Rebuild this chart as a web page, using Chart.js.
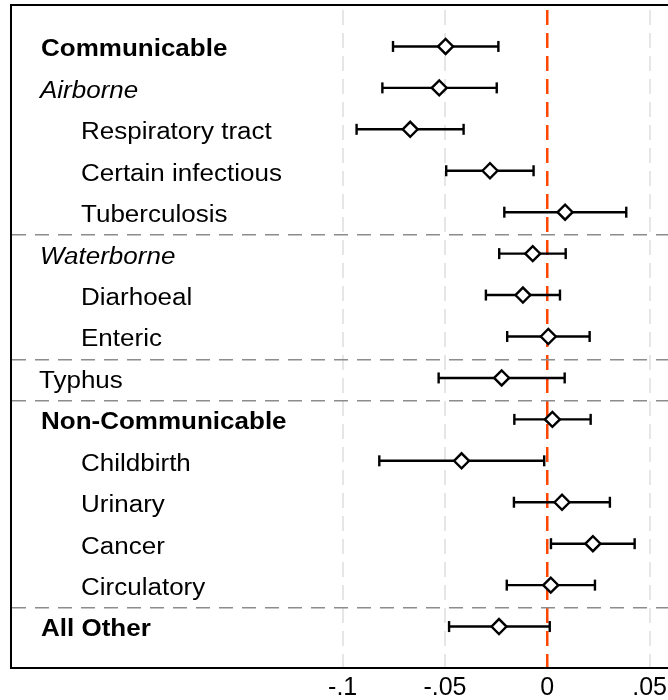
<!DOCTYPE html>
<html>
<head>
<meta charset="utf-8">
<script src="https://cdn.jsdelivr.net/npm/chart.js@4/dist/chart.umd.min.js"></script>
<style>
html,body{margin:0;padding:0;background:#fff;overflow:hidden;}
#wrap{width:668px;height:700px;position:relative;overflow:hidden;}
#c{position:absolute;left:0;top:0;}
</style>
</head>
<body>
<div id="wrap"><canvas id="c" width="700" height="700"></canvas></div>
<script>
// ---- data ----
const categories = ['Communicable','Airborne','Respiratory tract','Certain infectious','Tuberculosis',
  'Waterborne','Diarhoeal','Enteric','Typhus','Non-Communicable','Childbirth','Urinary','Cancer','Circulatory','All Other'];
const estimates = [-0.0497,-0.0528,-0.0670,-0.0280,0.0087,-0.0071,-0.0119,0.0005,-0.0223,0.0025,-0.0419,0.0072,0.0223,0.0017,-0.0236];
const lower     = [-0.0754,-0.0806,-0.0932,-0.0494,-0.0210,-0.0235,-0.0300,-0.0196,-0.0531,-0.0161,-0.0821,-0.0163,0.0018,-0.0198,-0.0480];
const upper     = [-0.0239,-0.0247,-0.0409,-0.0067,0.0386,0.0090,0.0062,0.0207,0.0085,0.0212,-0.0015,0.0306,0.0427,0.0233,0.0012];
const xTicks = [-0.1,-0.05,0,0.05];
const xTickLabels = ['-.1','-.05','0','.05'];
const separators = [4.55,7.55,8.55,13.55];

// ---- label styling (by row kind) ----
const rowKind = ['group','sub','item','item','item','sub','item','item','plain','group','item','item','item','item','group'];
const kindStyle = {
  group:{font:'bold 26px "Liberation Sans", Arial, sans-serif', x:41},
  sub:{font:'italic 26px "Liberation Sans", Arial, sans-serif', x:40},
  item:{font:'26px "Liberation Sans", Arial, sans-serif', x:81},
  plain:{font:'26px "Liberation Sans", Arial, sans-serif', x:39}
};

const pointData = categories.map((c,i)=>({x:estimates[i], y:i}));
const barSets = categories.map((c,i)=>({
  type:'line',
  data:[{x:lower[i],y:i},{x:upper[i],y:i}],
  borderColor:'#000', borderWidth:2.4,
  pointStyle:'line', rotation:90, pointRadius:5.5,
  pointBorderColor:'#000', pointBorderWidth:2.4, fill:false
}));

const labelPlugin = {
  id:'rowLabels',
  afterDatasetsDraw(chart){
    const ctx = chart.ctx, ys = chart.scales.y, area = chart.chartArea;
    ctx.save();
    ctx.fillStyle = '#000';
    ctx.textBaseline = 'alphabetic';
    ctx.textAlign = 'left';
    categories.forEach((c,i)=>{
      const st = kindStyle[rowKind[i]];
      const py = ys.getPixelForValue(i);
      ctx.save();
      ctx.translate(area.left + st.x - 11, py);
      ctx.scale(1,0.9);
      ctx.font = st.font;
      ctx.fillText(c, 0, 11);
      ctx.restore();
    });
    // top frame line
    ctx.strokeStyle = '#000';
    ctx.lineWidth = 2;
    ctx.beginPath();
    ctx.moveTo(area.left - 1, area.top);
    ctx.lineTo(area.right, area.top);
    ctx.stroke();
    ctx.restore();
  }
};

new Chart(document.getElementById('c'), {
  type:'scatter',
  data:{datasets:[
    {type:'scatter', data:pointData, pointStyle:'rectRot', pointRadius:7.5,
     backgroundColor:'#fff', borderColor:'#000', borderWidth:2.4}
  ].concat(barSets)},
  options:{
    responsive:false, animation:false, events:[],
    layout:{autoPadding:false, padding:{left:11, top:5, right:32, bottom:0}},
    plugins:{legend:{display:false}, tooltip:{enabled:false}},
    scales:{
      x:{
        type:'linear', position:'bottom', min:-0.2621, max:0.059,
        afterBuildTicks(s){ s.ticks = xTicks.map(v=>({value:v})); },
        afterFit(s){ s.height = 32; },
        ticks:{
          callback:(v)=>{ const k = xTicks.indexOf(v); return k>=0 ? xTickLabels[k] : ''; },
          font:{family:'"Liberation Sans", Arial, sans-serif', size:25},
          color:'#000', padding:5, maxRotation:0, autoSkip:false
        },
        grid:{
          drawTicks:false,
          color:(ctx)=> (ctx.tick && ctx.tick.value===0) ? '#ff4500' : '#e6e6e6',
          lineWidth:(ctx)=> (ctx.tick && ctx.tick.value===0) ? 2.5 : 2
        },
        border:{display:true, color:'#000', width:2, dash:[15,8], dashOffset:18}
      },
      y:{
        type:'linear', reverse:true, min:-1, max:15,
        afterBuildTicks(s){ s.ticks = separators.map(v=>({value:v})); },
        afterFit(s){ s.width = 0; },
        ticks:{display:false},
        grid:{drawTicks:false, color:'#8c8c8c', lineWidth:1.5},
        border:{display:true, color:'#000', width:2, dash:[14,9]}
      }
    }
  },
  plugins:[labelPlugin]
});
</script>
</body>
</html>
